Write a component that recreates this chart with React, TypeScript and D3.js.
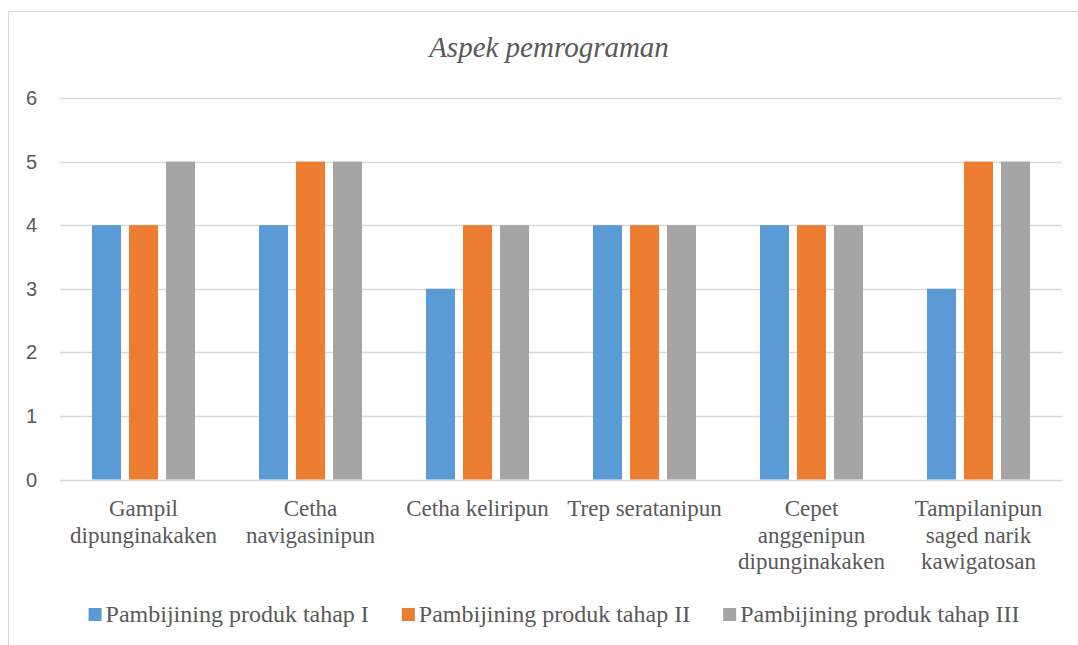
import React, { useRef, useEffect } from 'react';
import * as d3 from 'd3';
import { select } from 'd3';

const categories = [
    ['Gampil', 'dipunginakaken'],
    ['Cetha', 'navigasinipun'],
    ['Cetha keliripun'],
    ['Trep seratanipun'],
    ['Cepet', 'anggenipun', 'dipunginakaken'],
    ['Tampilanipun', 'saged narik', 'kawigatosan'],
];
const seriesNames = [
    'Pambijining produk tahap I',
    'Pambijining produk tahap II',
    'Pambijining produk tahap III',
];
const tahap1 = [4, 4, 3, 4, 4, 3];
const tahap2 = [4, 5, 4, 4, 4, 5];
const tahap3 = [5, 5, 4, 4, 4, 5];
const yTicks = [0, 1, 2, 3, 4, 5, 6];
const colors = ['#5b9bd5', '#ed7d31', '#a5a5a5'];

function App() {

    const ref = useRef(null);

    useEffect(() => {
        document.body.style.margin = '0';
        const svg = select(ref.current);
        const node = ref.current;
        node.querySelectorAll('*').forEach(n => n.remove());

        const width = 1078;
        const height = 645;
        const margin = { top: 98, right: 16, bottom: 165.5, left: 60 };
        const textColor = '#595959';
        const serif = '"Liberation Serif", "Times New Roman", serif';
        const values = [tahap1, tahap2, tahap3];
        const keys = categories.map(c => c.join(' '));

        svg.append('rect')
            .attr('x', 8.5).attr('y', 11.5)
            .attr('width', 1080).attr('height', 640)
            .attr('fill', 'white').attr('stroke', '#d9d9d9');

        svg.append('text')
            .attr('x', 549).attr('y', 57)
            .attr('text-anchor', 'middle')
            .attr('font-family', serif)
            .attr('font-style', 'italic')
            .attr('font-size', 29)
            .attr('fill', textColor)
            .text('Aspek pemrograman');

        const x0 = d3.scaleBand()
            .domain(keys)
            .range([margin.left, width - margin.right]);

        const x1 = d3.scaleBand()
            .domain(seriesNames)
            .range([0, 103])
            .paddingInner(8 / 37);

        const y = d3.scaleLinear()
            .domain([0, 6])
            .range([height - margin.bottom, margin.top]);

        // gridlines
        svg.append('g')
            .selectAll('line')
            .data(yTicks)
            .join('line')
            .attr('x1', margin.left)
            .attr('x2', width - margin.right)
            .attr('y1', d => Math.round(y(d)) + 0.5)
            .attr('y2', d => Math.round(y(d)) + 0.5)
            .attr('stroke', '#d9d9d9')
            .attr('stroke-width', 1.3);

        svg.append('g')
            .selectAll('text')
            .data(yTicks)
            .join('text')
            .attr('x', 37)
            .attr('y', d => y(d) + 7)
            .attr('text-anchor', 'end')
            .attr('font-family', '"Liberation Sans", Arial, sans-serif')
            .attr('font-size', 20)
            .attr('fill', textColor)
            .text(d => d);

        // bars
        seriesNames.forEach((s, si) => {
            svg.append('g')
                .selectAll('rect')
                .data(values[si])
                .join('rect')
                .attr('x', (d, i) => x0(keys[i]) + x0.bandwidth() / 2 - 51.5 + x1(s))
                .attr('y', d => y(d))
                .attr('width', x1.bandwidth())
                .attr('height', d => y(0) - y(d))
                .attr('fill', colors[si]);
        });

        // category labels
        const cat = svg.append('g')
            .selectAll('text')
            .data(categories)
            .join('text')
            .attr('text-anchor', 'middle')
            .attr('font-family', serif)
            .attr('font-size', 23)
            .attr('fill', textColor);
        cat.each(function (lines, i) {
            const cx = x0(keys[i]) + x0.bandwidth() / 2;
            select(this).selectAll('tspan')
                .data(lines)
                .join('tspan')
                .attr('x', cx)
                .attr('y', (d, j) => 516 + j * 26.7)
                .text(d => d);
        });

        // legend
        const legend = svg.append('g');
        const items = seriesNames.map((s, i) => {
            const g = legend.append('g');
            g.append('rect')
                .attr('x', 0).attr('y', 608)
                .attr('width', 13).attr('height', 13)
                .attr('fill', colors[i]);
            const t = g.append('text')
                .attr('x', 17).attr('y', 622)
                .attr('font-family', serif)
                .attr('font-size', 24)
                .attr('fill', textColor)
                .text(s);
            return { g, w: 17 + t.node().getComputedTextLength() };
        });
        const gap = 33;
        const total = d3.sum(items, d => d.w) + gap * (items.length - 1);
        let lx = 554 - total / 2;
        items.forEach(it => {
            it.g.attr('transform', `translate(${lx},0)`);
            lx += it.w + gap;
        });

    }, []);

    return (
        <svg width="1078" height="645" ref={ref} style={{ display: 'block' }}></svg>
    );
}

export default App;
